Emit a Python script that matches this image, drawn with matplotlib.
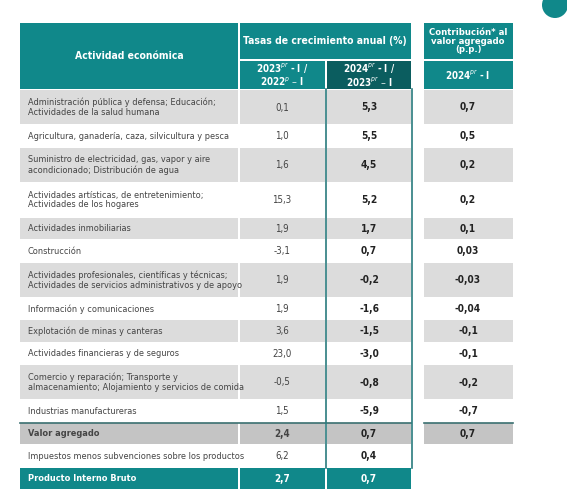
import matplotlib
matplotlib.use("Agg")
import matplotlib.pyplot as plt
from matplotlib.patches import Rectangle, Circle

plt.rcParams['font.family'] = ['DejaVu Sans']
plt.rcParams['font.stretch'] = 'condensed'

activities = [
    "Administración pública y defensa; Educación;\nActividades de la salud humana",
    "Agricultura, ganadería, caza, silvicultura y pesca",
    "Suministro de electricidad, gas, vapor y aire\nacondicionado; Distribución de agua",
    "Actividades artísticas, de entretenimiento;\nActividades de los hogares",
    "Actividades inmobiliarias",
    "Construcción",
    "Actividades profesionales, científicas y técnicas;\nActividades de servicios administrativos y de apoyo",
    "Información y comunicaciones",
    "Explotación de minas y canteras",
    "Actividades financieras y de seguros",
    "Comercio y reparación; Transporte y\nalmacenamiento; Alojamiento y servicios de comida",
    "Industrias manufactureras",
    "Valor agregado",
    "Impuestos menos subvenciones sobre los productos",
    "Producto Interno Bruto",
]
growth_2023 = ["0,1", "1,0", "1,6", "15,3", "1,9", "-3,1", "1,9", "1,9", "3,6", "23,0", "-0,5", "1,5", "2,4", "6,2", "2,7"]
growth_2024 = ["5,3", "5,5", "4,5", "5,2", "1,7", "0,7", "-0,2", "-1,6", "-1,5", "-3,0", "-0,8", "-5,9", "0,7", "0,4", "0,7"]
contrib_2024 = ["0,7", "0,5", "0,2", "0,2", "0,1", "0,03", "-0,03", "-0,04", "-0,1", "-0,1", "-0,2", "-0,7", "0,7", "", ""]

W, H = 567, 492
fig = plt.figure(figsize=(W/100, H/100), dpi=100)
ax = fig.add_axes([0, 0, 1, 1])
ax.set_xlim(0, W); ax.set_ylim(H, 0); ax.axis('off')

TEAL = '#10888a'; DARK = '#0b5d5f'; GRAY = '#dcdcdc'; VGRAY = '#c4c4c4'
cols = [(20, 238), (240, 325), (327, 411), (424, 513)]

def rect(x0, y0, x1, y1, c, **kw):
    ax.add_patch(Rectangle((x0, y0), x1-x0, y1-y0, color=c, lw=0, **kw))

# header
rect(20, 23, 238, 89, TEAL)
rect(240, 23, 411, 59, TEAL)
rect(240, 61, 325, 89, TEAL)
rect(327, 61, 411, 89, DARK)
rect(424, 23, 513, 59, TEAL)
rect(424, 61, 513, 89, TEAL)
wb = dict(color='white', fontweight='bold', ha='center', va='center')
ax.text(129, 56, "Actividad económica", fontsize=7.5, **wb)
ax.text(325, 41, "Tasas de crecimiento anual (%)", fontsize=7.5, **wb)
ax.text(468, 41, "Contribución* al\nvalor agregado\n(p.p.)", fontsize=6.8, linespacing=0.95, **wb)
ax.text(282, 75, r"2023$^{pr}$ - I /" + "\n" + r"2022$^{p}$ – I", fontsize=7, linespacing=1.0, **wb)
ax.text(369, 75, r"2024$^{pr}$ - I /" + "\n" + r"2023$^{pr}$ – I", fontsize=7, linespacing=1.0, **wb)
ax.text(468, 75, r"2024$^{pr}$ - I", fontsize=7, **wb)

ax.add_patch(Circle((555, 5), 13, color=TEAL, lw=0))

y = 90
for i, act in enumerate(activities):
    h = 35 if "\n" in act else 22.5
    last = i == len(activities) - 1
    if last:
        bg = TEAL
    elif i == 12:
        bg = VGRAY
    elif i % 2 == 0 and i < 12:
        bg = GRAY
    else:
        bg = None
    for j, (x0, x1) in enumerate(cols):
        if j == 3 and i >= 13:
            continue
        if bg:
            rect(x0, y, x1, y + h - 1, bg)
    tc = 'white' if last else '#444444'
    bold = i in (12, 14)
    ax.text(28, y + h/2, act, fontsize=6.6, color=tc, va='center', ha='left',
            fontweight='bold' if bold else 'normal', linespacing=1.1)
    ax.text(282, y + h/2, growth_2023[i], fontsize=7, color=tc, ha='center', va='center',
            fontweight='bold' if bold else 'normal')
    ax.text(369, y + h/2, growth_2024[i], fontsize=7.3, color='white' if last else '#222222',
            ha='center', va='center', fontweight='bold')
    if contrib_2024[i]:
        ax.text(468, y + h/2, contrib_2024[i], fontsize=7.3, color='#222222',
                ha='center', va='center', fontweight='bold')
    if i == 12:
        ax.plot([20, 411], [y, y], color='#3a6f70', lw=1.2)
        ax.plot([424, 513], [y, y], color='#3a6f70', lw=1.2)
    y += h
    if i == 13:
        ybot = y
# teal border on 2024 column
ax.plot([326, 326], [89, ybot], color='#2a7c7e', lw=1.2)
ax.plot([411.5, 411.5], [89, ybot], color='#2a7c7e', lw=1.2)

fig.savefig('out.png', dpi=100)
